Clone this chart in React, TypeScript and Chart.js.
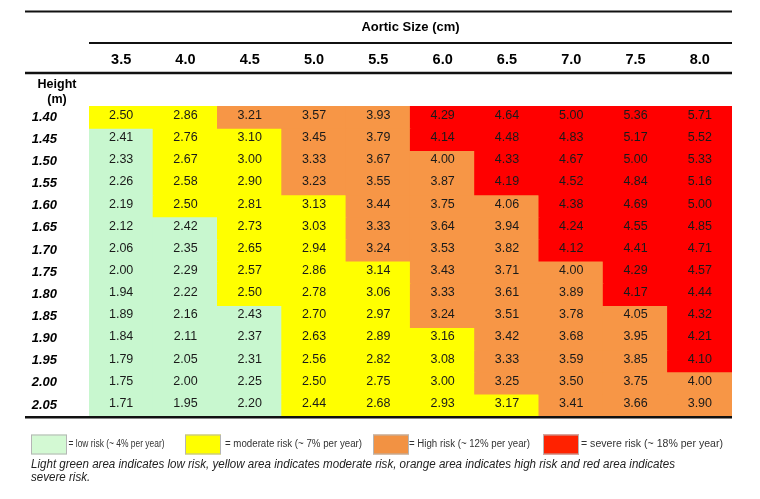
import React, { useEffect, useRef } from 'react';
import { Chart, registerables } from 'chart.js';

Chart.register(...registerables);

const FONT = '"Liberation Sans", Arial, Helvetica, sans-serif';

const aorticSizes = ['3.5', '4.0', '4.5', '5.0', '5.5', '6.0', '6.5', '7.0', '7.5', '8.0'];
const heights = ['1.40', '1.45', '1.50', '1.55', '1.60', '1.65', '1.70', '1.75', '1.80', '1.85', '1.90', '1.95', '2.00', '2.05'];

const indexRows = [
  [2.50, 2.86, 3.21, 3.57, 3.93, 4.29, 4.64, 5.00, 5.36, 5.71],
  [2.41, 2.76, 3.10, 3.45, 3.79, 4.14, 4.48, 4.83, 5.17, 5.52],
  [2.33, 2.67, 3.00, 3.33, 3.67, 4.00, 4.33, 4.67, 5.00, 5.33],
  [2.26, 2.58, 2.90, 3.23, 3.55, 3.87, 4.19, 4.52, 4.84, 5.16],
  [2.19, 2.50, 2.81, 3.13, 3.44, 3.75, 4.06, 4.38, 4.69, 5.00],
  [2.12, 2.42, 2.73, 3.03, 3.33, 3.64, 3.94, 4.24, 4.55, 4.85],
  [2.06, 2.35, 2.65, 2.94, 3.24, 3.53, 3.82, 4.12, 4.41, 4.71],
  [2.00, 2.29, 2.57, 2.86, 3.14, 3.43, 3.71, 4.00, 4.29, 4.57],
  [1.94, 2.22, 2.50, 2.78, 3.06, 3.33, 3.61, 3.89, 4.17, 4.44],
  [1.89, 2.16, 2.43, 2.70, 2.97, 3.24, 3.51, 3.78, 4.05, 4.32],
  [1.84, 2.11, 2.37, 2.63, 2.89, 3.16, 3.42, 3.68, 3.95, 4.21],
  [1.79, 2.05, 2.31, 2.56, 2.82, 3.08, 3.33, 3.59, 3.85, 4.10],
  [1.75, 2.00, 2.25, 2.50, 2.75, 3.00, 3.25, 3.50, 3.75, 4.00],
  [1.71, 1.95, 2.20, 2.44, 2.68, 2.93, 3.17, 3.41, 3.66, 3.90],
];

// 0 = low, 1 = moderate, 2 = high, 3 = severe
const riskRows = [
  [1, 1, 2, 2, 2, 3, 3, 3, 3, 3],
  [0, 1, 1, 2, 2, 3, 3, 3, 3, 3],
  [0, 1, 1, 2, 2, 2, 3, 3, 3, 3],
  [0, 1, 1, 2, 2, 2, 3, 3, 3, 3],
  [0, 1, 1, 1, 2, 2, 2, 3, 3, 3],
  [0, 0, 1, 1, 2, 2, 2, 3, 3, 3],
  [0, 0, 1, 1, 2, 2, 2, 3, 3, 3],
  [0, 0, 1, 1, 1, 2, 2, 2, 3, 3],
  [0, 0, 1, 1, 1, 2, 2, 2, 3, 3],
  [0, 0, 0, 1, 1, 2, 2, 2, 2, 3],
  [0, 0, 0, 1, 1, 1, 2, 2, 2, 3],
  [0, 0, 0, 1, 1, 1, 2, 2, 2, 3],
  [0, 0, 0, 1, 1, 1, 2, 2, 2, 2],
  [0, 0, 0, 1, 1, 1, 1, 2, 2, 2],
];

const riskColors = ['#C8F7CF', '#FFFF00', '#F79646', '#FF0000'];
const legendColors = ['#D3F9D3', '#FFFF00', '#F29243', '#FF2200'];
const legendLabels = [
  '= low risk (~ 4% per year)',
  '= moderate risk (~ 7% per year)',
  '= High risk (~ 12% per year)',
  '= severe risk (~ 18% per year)',
];
const captionLines = [
  'Light green area indicates low risk, yellow area indicates moderate risk, orange area indicates high risk and red area indicates',
  'severe risk.',
];
const axisTitle = 'Aortic Size (cm)';
const rowTitle = ['Height', '(m)'];

export default function App() {
  const ref = useRef<HTMLCanvasElement>(null);

  useEffect(() => {
    const canvas = ref.current;
    if (!canvas) return;

    const cellText = {
      id: 'cellText',
      afterDatasetsDraw(chart: any) {
        const { ctx } = chart;
        ctx.save();
        ctx.font = `12.5px ${FONT}`;
        ctx.fillStyle = '#1a1a1a';
        ctx.textAlign = 'center';
        ctx.textBaseline = 'middle';
        chart.data.datasets.forEach((ds: any, i: number) => {
          const meta = chart.getDatasetMeta(i);
          meta.data.forEach((el: any, j: number) => {
            const p = el.getProps(['x', 'y', 'base'], true);
            const cy = (p.y + p.base) / 2 - 1.5;
            ctx.fillText(indexRows[i][j].toFixed(2), p.x, cy);
          });
        });
        ctx.restore();
      },
    };

    const decor = {
      id: 'decor',
      afterDraw(chart: any) {
        const { ctx, chartArea: ca, scales } = chart;
        const L = scales.y.left;
        const R = ca.right;
        ctx.save();
        ctx.strokeStyle = '#111';
        const line = (x0: number, x1: number, y: number, w: number) => {
          ctx.lineWidth = w;
          ctx.beginPath();
          ctx.moveTo(x0, y);
          ctx.lineTo(x1, y);
          ctx.stroke();
        };
        line(L, R, 11.5, 2);
        line(ca.left, R, 43, 2);
        line(L, R, 73, 2.5);
        line(L, R, ca.bottom + 1.2, 2.5);

        // Row header
        ctx.fillStyle = '#000';
        ctx.font = `bold 12.5px ${FONT}`;
        ctx.textAlign = 'center';
        ctx.textBaseline = 'middle';
        const hx = scales.y.right - 32;
        ctx.fillText(rowTitle[0], hx, 85);
        ctx.fillText(rowTitle[1], hx, 100);

        // Legend
        const boxX = [31, 185, 373, 543];
        const boxW = 36;
        const textX = [68.5, 225, 409, 581];
        const textW = [96, 137, 121, 142];
        const boxY = 434.5;
        ctx.textAlign = 'left';
        ctx.font = `10px ${FONT}`;
        legendLabels.forEach((lab, k) => {
          ctx.fillStyle = legendColors[k];
          ctx.fillRect(boxX[k], boxY, boxW, 20);
          ctx.strokeStyle = '#b5b5b5';
          ctx.lineWidth = 1;
          ctx.strokeRect(boxX[k] + 0.5, boxY + 0.5, boxW - 1, 19);
          ctx.fillStyle = '#333';
          const w = ctx.measureText(lab).width;
          const sx = textW[k] / w;
          ctx.save();
          ctx.translate(textX[k], 444.5);
          ctx.scale(sx, 1);
          ctx.fillText(lab, 0, 0);
          ctx.restore();
        });

        // Caption
        ctx.font = `italic 12.5px ${FONT}`;
        ctx.fillStyle = '#222';
        ctx.textBaseline = 'alphabetic';
        const w0 = ctx.measureText(captionLines[0]).width;
        const sxc = 644 / w0;
        captionLines.forEach((t, k) => {
          ctx.save();
          ctx.translate(31, 468 + k * 12.5);
          ctx.scale(sxc, 1);
          ctx.fillText(t, 0, 0);
          ctx.restore();
        });
        ctx.restore();
      },
    };

    const chart = new Chart(canvas, {
      type: 'bar',
      data: {
        labels: aorticSizes,
        datasets: heights.map((h, i) => ({
          label: h,
          data: aorticSizes.map(() => [i - 0.5, i + 0.5]),
          backgroundColor: riskRows[i].map((r) => riskColors[r]),
          borderWidth: 0,
          barPercentage: 1,
          categoryPercentage: 1,
          grouped: false,
          inflateAmount: 0.6,
        })),
      } as any,
      options: {
        responsive: false,
        animation: false,
        devicePixelRatio: 1,
        layout: { padding: { left: 25, right: 28, top: 0, bottom: 83 } },
        plugins: {
          legend: { display: false },
          tooltip: { enabled: false },
        },
        scales: {
          x: {
            type: 'category',
            position: 'top',
            offset: true,
            grid: { display: false, drawTicks: false },
            border: { display: false },
            ticks: {
              color: '#000',
              font: { family: FONT, size: 14.5, weight: 'bold' },
              padding: 37,
              autoSkip: false,
              maxRotation: 0,
            },
            title: {
              display: true,
              text: axisTitle,
              color: '#000',
              font: { family: FONT, size: 13, weight: 'bold' },
              padding: { top: 20, bottom: 0 },
            },
            afterFit: (s: any) => {
              s.height = 106;
            },
          },
          y: {
            type: 'linear',
            reverse: true,
            min: -0.5,
            max: heights.length - 0.5,
            grid: { display: false, drawTicks: false },
            border: { display: false },
            afterBuildTicks: (s: any) => {
              s.ticks = heights.map((_, i) => ({ value: i }));
            },
            ticks: {
              color: '#000',
              font: { family: FONT, size: 13, weight: 'bold', style: 'italic' },
              padding: 32,
              autoSkip: false,
              callback: (v: any) => heights[v] ?? '',
            },
            afterFit: (s: any) => {
              s.width = 64;
            },
          },
        },
      } as any,
      plugins: [cellText, decor],
    });

    return () => chart.destroy();
  }, []);

  return (
    <div style={{ position: 'fixed', left: 0, top: 0, width: 760, height: 499, background: '#fff' }}>
      <canvas ref={ref} width={760} height={499} style={{ display: 'block', width: 760, height: 499 }} />
    </div>
  );
}
